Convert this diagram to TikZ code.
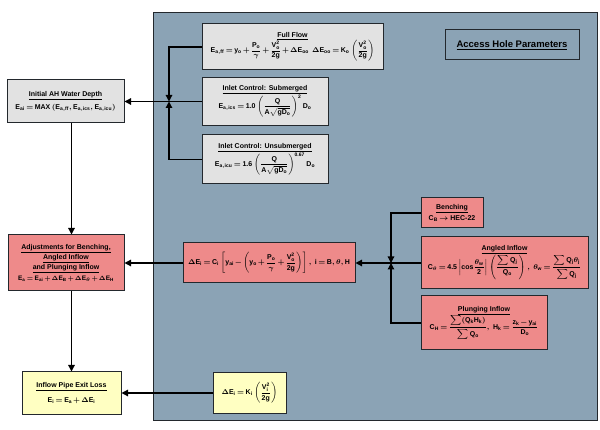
\documentclass[tikz,border=0pt]{standalone}
\usepackage{amsmath}
\usepackage{fontspec}
\setmainfont{Liberation Sans}
\usetikzlibrary{arrows.meta}

% upright bold sans letters and digits in math
\makeatletter
\DeclareSymbolFont{sfletters}{TU}{\rmdefault}{\bfdefault}{n}
\AtBeginDocument{%
\count@=`A
\loop\ifnum\count@<`[
  \Umathcode\count@=7 \symsfletters \count@
  \advance\count@ by 1
\repeat
\count@=`a
\loop\ifnum\count@<`\{
  \Umathcode\count@=7 \symsfletters \count@
  \advance\count@ by 1
\repeat
\count@=`0
\loop\ifnum\count@<`:
  \Umathcode\count@=7 \symsfletters \count@
  \advance\count@ by 1
\repeat
\Umathcode`.=0 \symsfletters `.
}
\makeatother
\newcommand\tightmath{\medmuskip=2mu\relax\thickmuskip=3mu\relax}

\definecolor{panelblue}{RGB}{139,163,181}
\definecolor{boxgray}{RGB}{226,226,226}
\definecolor{boxpink}{RGB}{238,138,138}
\definecolor{boxyellow}{RGB}{255,255,194}
\definecolor{edge}{RGB}{35,40,45}

\tikzset{
  blk/.style={draw=edge, line width=1pt, align=center, inner sep=1pt,
    font=\fontsize{7}{8.5}\selectfont\bfseries\tightmath},
  grayblk/.style={blk, fill=boxgray},
  pinkblk/.style={blk, fill=boxpink},
  yellowblk/.style={blk, fill=boxyellow},
  arr/.style={line width=1.2pt, -{Triangle[length=6.5pt,width=6.5pt]}},
}

\begin{document}
\boldmath
\begin{tikzpicture}[x=1pt,y=1pt,yscale=-1]
\useasboundingbox (0,0) rectangle (600,430);

%Shape: panel
\draw[edge, fill=panelblue, line width=1pt] (153,13) rectangle (597,420);
\node[blk, fill=panelblue, minimum width=134, minimum height=30,
  font=\fontsize{9.5}{11}\selectfont\bfseries] (params) at (512,45) {\underline{Access Hole Parameters}};

% left column
\node[grayblk, minimum width=117, minimum height=43] (initAH) at (65.5,101.5)
  {\underline{Initial AH Water Depth}\\[4pt]
   $E_{ai} = MAX\,(E_{a,ff}, E_{a,ics}, E_{a,icu})$};
\node[pinkblk, minimum width=116, minimum height=56] (adjust) at (66,263)
  {\underline{Adjustments for Benching,}\\[1.5pt] \underline{Angled Inflow}\\[1.5pt] \underline{and Plunging Inflow}\\[3pt]
   {\fontsize{6.5}{8}\selectfont$E_a = E_{ai} + \Delta E_B + \Delta E_\theta + \Delta E_H$}};
\node[yellowblk, minimum width=99, minimum height=42] (exitloss) at (71.5,393)
  {\underline{Inflow Pipe Exit Loss}\\[6pt]
   $E_i = E_a + \Delta E_i$};

% access hole boxes
\node[grayblk, minimum width=181, minimum height=46] (fullflow) at (292.5,47)
  {\underline{Full Flow}\\
   $E_{a,ff} = y_o + \dfrac{P_o}{\gamma} + \dfrac{V_o^2}{2g} + \Delta E_{oo}\;\;
    \Delta E_{oo} = K_o\left(\dfrac{V_o^2}{2g}\right)$};
\node[grayblk, minimum width=126, minimum height=48] (submerged) at (265,101.5)
  {\underline{Inlet Control: Submerged}\\
   $E_{a,ics} = 1.0\left(\dfrac{Q}{A\sqrt{gD_o}}\right)^{2} D_o$};
\node[grayblk, minimum width=126, minimum height=49] (unsub) at (265,159.5)
  {\underline{Inlet Control: Unsubmerged}\\
   $E_{a,icu} = 1.6\left(\dfrac{Q}{A\sqrt{gD_o}}\right)^{0.67} D_o$};
\node[pinkblk, minimum width=172, minimum height=40] (lossi) at (269,263)
  {$\Delta E_i = C_i\left[y_{ai} - \left(y_o + \dfrac{P_o}{\gamma} + \dfrac{V_o^2}{2g}\right)\right],\ i = B,\theta,H$};
\node[pinkblk, minimum width=62, minimum height=30] (bench) at (452,213)
  {\underline{Benching}\\[2pt] $C_B \rightarrow$ HEC-22};
\node[pinkblk, minimum width=167, minimum height=52] (angled) at (504.5,263)
  {\underline{Angled Inflow}\\
   $C_\theta = 4.5\left|cos\dfrac{\theta_w}{2}\right|\left(\dfrac{\displaystyle\sum Q_j}{Q_o}\right),\ 
    \theta_w = \dfrac{\displaystyle\sum Q_j\theta_j}{\displaystyle\sum Q_j}$};
\node[pinkblk, minimum width=126, minimum height=54] (plunge) at (484,323)
  {\underline{Plunging Inflow}\\
   $C_H = \dfrac{\displaystyle\sum (Q_k H_k)}{\displaystyle\sum Q_o},\ H_k = \dfrac{z_k - y_{ai}}{D_o}$};
\node[yellowblk, minimum width=73, minimum height=41] (exitk) at (249.5,393)
  {$\Delta E_i = K_i\left(\dfrac{V_i^2}{2g}\right)$};

% junctions
\coordinate (jL) at (169,101.5);
\coordinate (jR) at (391,263);

% connectors
\draw[arr] (fullflow.west) -| (jL);
\draw[arr] (unsub.west) -| (jL);
\draw[arr] (submerged) -- (initAH);
\draw[arr] (bench.west) -| (jR);
\draw[arr] (plunge.west) -| (jR);
\draw[arr] (angled) -- (lossi);
\draw[arr] (lossi) -- (adjust);
\draw[arr] (initAH.south -| exitloss.north) -- (adjust.north -| exitloss.north);
\draw[arr] (adjust.south -| exitloss.north) -- (exitloss.north);
\draw[arr] (exitk) -- (exitloss);

\end{tikzpicture}
\end{document}
